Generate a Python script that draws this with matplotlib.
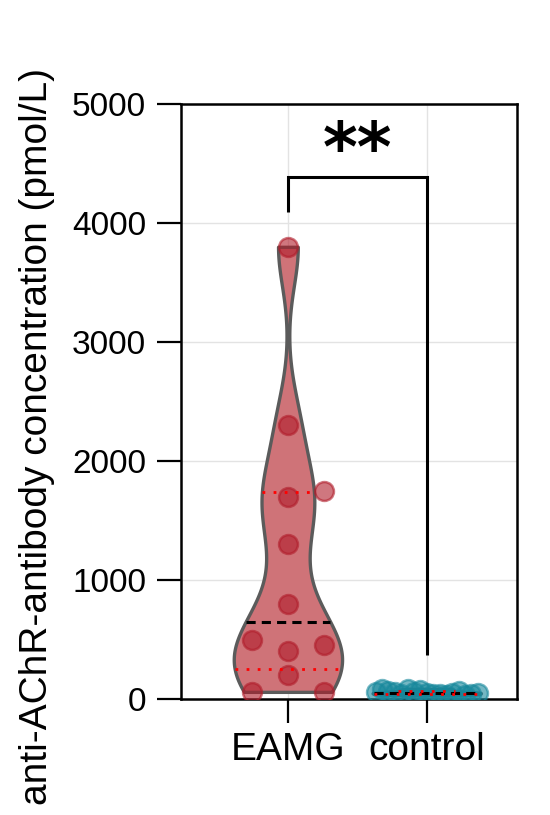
import numpy as np
import matplotlib
matplotlib.use("Agg")
import matplotlib.pyplot as plt

plt.rcParams['font.family'] = ['Liberation Sans', 'DejaVu Sans']

# ---- data ----
groups = ["EAMG", "control"]
eamg_vals = [3800, 2300, 1700, 1750, 1300, 800, 400, 450, 500, 200, 60, 60]
control_vals = [52, 38, 75, 45, 60, 30, 85, 48, 40, 70, 55, 35, 65, 42, 80, 50, 58]
yticks = [0, 1000, 2000, 3000, 4000, 5000]
ylabel = "anti-AChR-antibody concentration (pmol/L)"
sig_text = "**"

# ---- style ----
W, H, DPI = 550, 815, 100
fig = plt.figure(figsize=(W / DPI, H / DPI), dpi=DPI)
ax = fig.add_axes([181 / W, 1 - 699 / H, (517 - 181) / W, (699 - 104) / H])
ax.set_xlim(-0.77, 1.65)
ax.set_ylim(0, 5000)

violin_colors = ["#cf7378", "#2a9db0"]
point_colors = ["#b01c2a", "#17889c"]
max_half = 0.39
steps = [0.26, 0.046]

def kde_violin(vals, pos, color):
    v = np.asarray(vals, float)
    h = 0.29 * v.std(ddof=1)
    ys = np.linspace(v.min(), v.max(), 400)
    dens = np.exp(-0.5 * ((ys[:, None] - v[None, :]) / h) ** 2).sum(axis=1)
    half = dens / dens.max() * max_half
    ax.fill_betweenx(ys, pos - half, pos + half, facecolor=color,
                     edgecolor="#5b5b5b", linewidth=2.4, zorder=2)
    def width_at(y):
        return np.interp(y, ys, half)
    med = np.median(v)
    q1, q3 = np.percentile(v, [25, 75], method="weibull")
    w = width_at(med)
    ax.plot([pos - w, pos + w], [med, med], color="black", ls=(0, (3, 2)),
            lw=2.2, zorder=5)
    for q in (q1, q3):
        w = width_at(q)
        ax.plot([pos - w, pos + w], [q, q], color="red", ls=(0, (1, 3)),
                lw=2.0, zorder=5)

def swarm(vals, pos, step, diam_px):
    to_px = ax.transData
    placed = []
    xs = []
    order = [0]
    for i in range(1, 60):
        order += [i, -i]
    for v in vals:
        py = to_px.transform((pos, v))[1]
        for k in order:
            ok = True
            for (pk, ppy) in placed:
                if pk == k and abs(ppy - py) < diam_px:
                    ok = False
                    break
            if ok:
                break
        placed.append((k, py))
        xs.append(pos + k * step)
    return xs

for i, vals in enumerate([eamg_vals, control_vals]):
    kde_violin(vals, i, violin_colors[i])
    xs = swarm(vals, i, steps[i], 19)
    ax.scatter(xs, vals, s=185, facecolor=point_colors[i], alpha=0.6,
               edgecolor=point_colors[i], linewidth=1.8, zorder=4)

# significance bracket
ax.plot([0, 0, 1, 1], [4090, 4390, 4390, 370], color="black", lw=2.2,
        zorder=6, solid_capstyle="butt", solid_joinstyle="miter")
ax.text(0.5, 4600, sig_text, ha="center", va="center", fontsize=48,
        fontweight="bold", family="DejaVu Sans")

# axes styling
ax.set_xticks([0, 1])
ax.set_xticklabels(groups, fontsize=28)
ax.set_yticks(yticks)
ax.set_yticklabels([str(t) for t in yticks], fontsize=24)
ax.tick_params(axis="both", length=17, width=1.6, color="black")
ax.tick_params(axis="y", pad=8)
ax.tick_params(axis="x", pad=7)
for s in ax.spines.values():
    s.set_linewidth(1.8)
    s.set_color("black")
ax.grid(True, color="#e3e3e3", lw=1.0, zorder=0)
ax.set_axisbelow(True)
ax.set_ylabel(ylabel, fontsize=28)
ax.yaxis.set_label_coords(-0.375, 0.442)

fig.savefig("out.png", dpi=DPI)
